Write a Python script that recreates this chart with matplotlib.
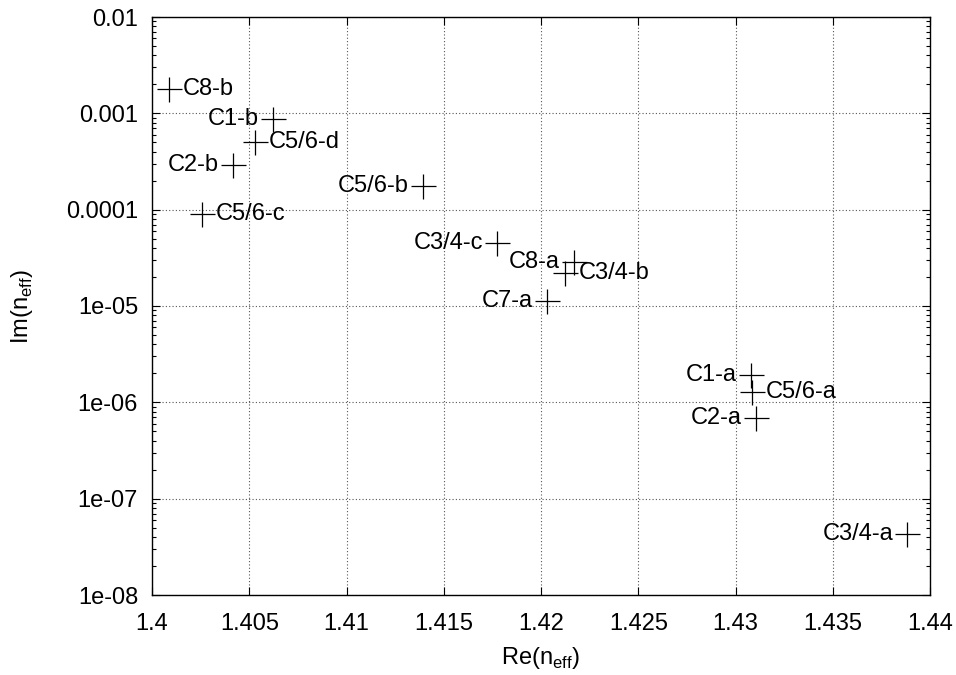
import matplotlib
matplotlib.use("Agg")
import matplotlib.pyplot as plt
from matplotlib.ticker import LogLocator, FixedLocator, NullFormatter

plt.rcParams['font.family'] = ['Liberation Sans', 'DejaVu Sans']

labels = ["C8-b", "C1-b", "C5/6-d", "C2-b", "C5/6-c", "C5/6-b", "C3/4-c",
          "C8-a", "C3/4-b", "C7-a", "C1-a", "C5/6-a", "C2-a", "C3/4-a"]
re_neff = [1.40087, 1.40622, 1.40530, 1.40416, 1.40257, 1.41393, 1.41774,
           1.42170, 1.42123, 1.42031, 1.43080, 1.43085, 1.43105, 1.43882]
im_neff = [1.79e-3, 8.7e-4, 5.0e-4, 2.9e-4, 9.0e-5, 1.76e-4, 4.5e-5,
           2.86e-5, 2.2e-5, 1.12e-5, 1.91e-6, 1.28e-6, 6.9e-7, 4.3e-8]
label_side = ["r", "l", "r", "l", "r", "l", "l", "l", "r", "l", "l", "r", "l", "l"]

xticks = [1.4, 1.405, 1.41, 1.415, 1.42, 1.425, 1.43, 1.435, 1.44]
xticklabels = ["1.4", "1.405", "1.41", "1.415", "1.42", "1.425", "1.43", "1.435", "1.44"]
yticks = [1e-8, 1e-7, 1e-6, 1e-5, 1e-4, 1e-3, 1e-2]
yticklabels = ["1e-08", "1e-07", "1e-06", "1e-05", "0.0001", "0.001", "0.01"]

fig = plt.figure(figsize=(9.56, 6.75), dpi=100)
ax = fig.add_axes([152/956, 1 - 595/675, (930-152)/956, (595-17)/675])

ax.plot(re_neff, im_neff, linestyle='none', marker='+', markersize=18,
        markeredgewidth=0.9, color='black', zorder=3)

fs = 17
for x, y, t, s in zip(re_neff, im_neff, labels, label_side):
    if s == "r":
        ax.annotate(t, (x, y), xytext=(10, 0), textcoords='offset points',
                    ha='left', va='center', fontsize=fs)
    else:
        ax.annotate(t, (x, y), xytext=(-10, 0), textcoords='offset points',
                    ha='right', va='center', fontsize=fs)

ax.set_yscale('log')
ax.set_xlim(1.4, 1.44)
ax.set_ylim(1e-8, 1e-2)
ax.xaxis.set_major_locator(FixedLocator(xticks))
ax.set_xticklabels(xticklabels)
ax.yaxis.set_major_locator(FixedLocator(yticks))
ax.set_yticklabels(yticklabels)
ax.yaxis.set_minor_locator(LogLocator(base=10, subs=range(2, 10), numticks=20))
ax.yaxis.set_minor_formatter(NullFormatter())

ax.tick_params(axis='both', which='major', direction='in', length=6, width=0.8,
               top=True, right=True, labelsize=fs)
ax.tick_params(axis='x', which='major', pad=13)
ax.tick_params(axis='y', which='major', pad=10)
ax.tick_params(axis='both', which='minor', direction='in', length=3, width=0.8,
               top=True, right=True)

ax.grid(True, which='major', linestyle=(0, (1, 2)), color='#555555', linewidth=0.8)
for sp in ax.spines.values():
    sp.set_linewidth(1.0)

ax.set_xlabel("Re(n$_{\\mathregular{eff}}$)", fontsize=fs, labelpad=7)
ax.set_ylabel("Im(n$_{\\mathregular{eff}}$)", fontsize=fs, labelpad=22)

fig.savefig("out.png", dpi=100)
